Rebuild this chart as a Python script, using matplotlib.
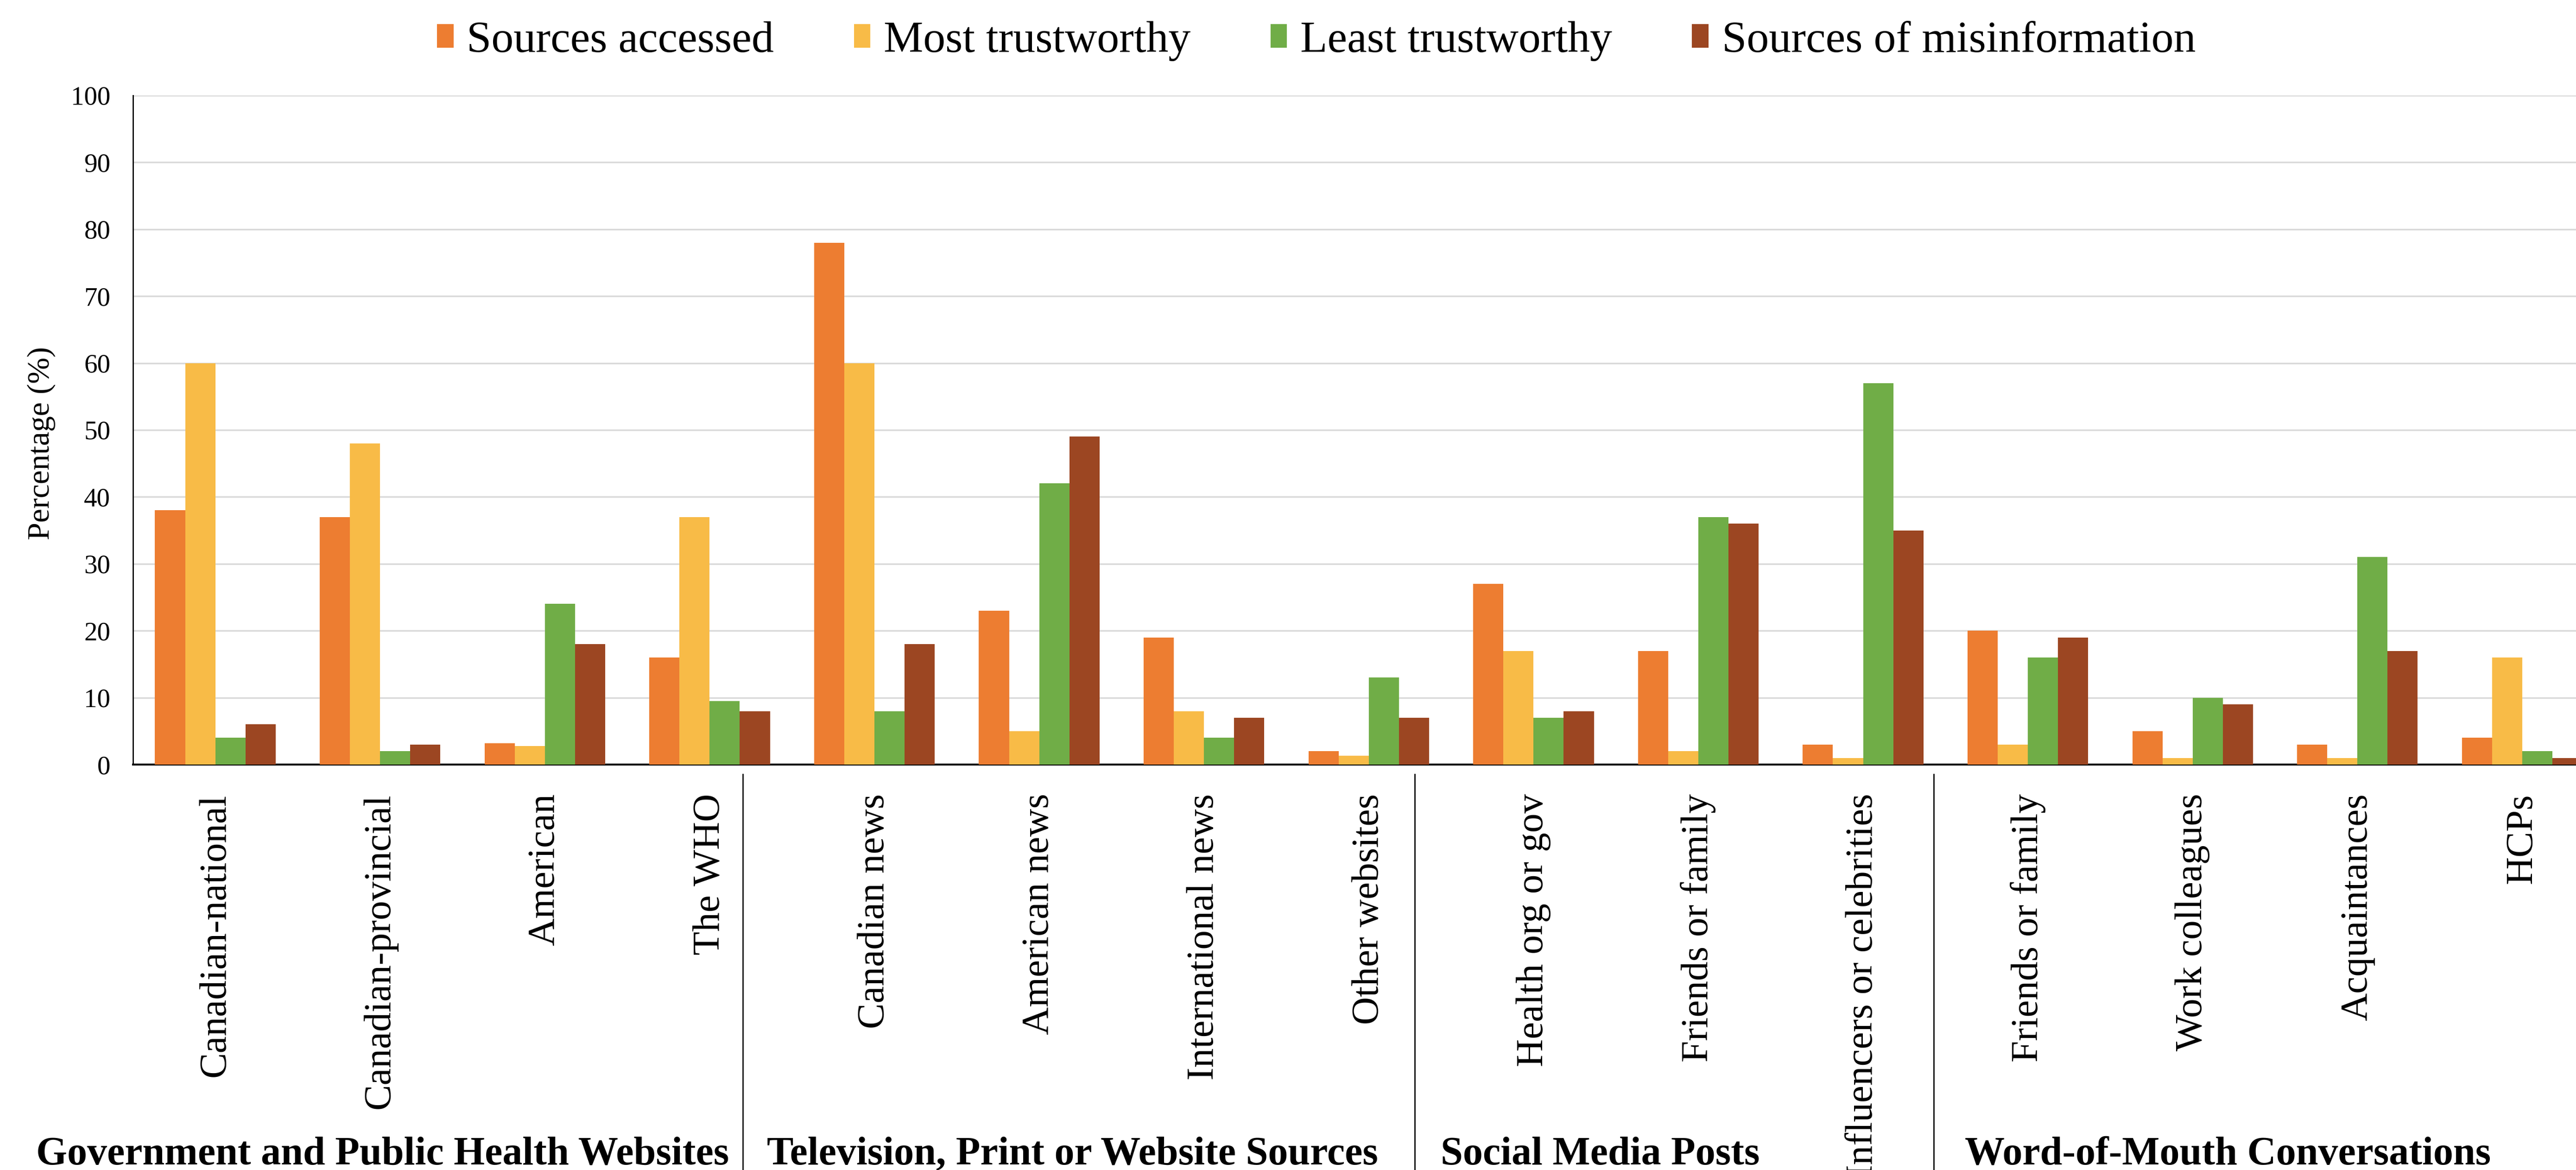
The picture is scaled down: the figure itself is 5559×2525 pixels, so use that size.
import matplotlib
matplotlib.use("Agg")
import matplotlib.pyplot as plt
import matplotlib.transforms as mtransforms
import numpy as np

plt.rcParams['font.family'] = ['Liberation Serif', 'DejaVu Serif']

categories = ['Canadian-national', 'Canadian-provincial', 'American', 'The WHO',
              'Canadian news', 'American news', 'International news', 'Other websites',
              'Health org or gov', 'Friends or family', 'Influencers or celebrities',
              'Friends or family', 'Work colleagues', 'Acquaintances', 'HCPs']

series_names = ['Sources accessed', 'Most trustworthy', 'Least trustworthy',
                'Sources of misinformation']
sources_accessed = [38, 37, 3.2, 16, 78, 23, 19, 2, 27, 17, 3, 20, 5, 3, 4]
most_trustworthy = [60, 48, 2.8, 37, 60, 5, 8, 1.3, 17, 2, 1, 3, 1, 1, 16]
least_trustworthy = [4, 2, 24, 9.5, 8, 42, 4, 13, 7, 37, 57, 16, 10, 31, 2]
misinformation = [6, 3, 18, 8, 18, 49, 7, 7, 8, 36, 35, 19, 9, 17, 1]

group_names = ['Government and Public Health Websites',
               'Television, Print or Website Sources',
               'Social Media Posts',
               'Word-of-Mouth Conversations']

colors = ['#ED7D31', '#F8BB47', '#70AD47', '#9C4622']

fig = plt.figure(figsize=(55.59, 25.25), dpi=100)
ax = fig.add_axes([0.0516, 0.3465, 0.9595, 0.572])

x = np.arange(len(categories))
w = 0.183
offsets = (np.arange(4) - 1.5) * w
all_series = [sources_accessed, most_trustworthy, least_trustworthy, misinformation]
for k, (name, vals) in enumerate(zip(series_names, all_series)):
    ax.bar(x + offsets[k], vals, w, color=colors[k], label=name, zorder=3)

ax.set_xlim(-0.5, 14.5)
ax.set_ylim(0, 100)
ax.set_yticks(range(0, 101, 10))
ax.yaxis.grid(True, color='#d9d9d9', linewidth=2.5, zorder=0)
ax.set_axisbelow(True)
ax.tick_params(axis='y', length=0, pad=35, labelsize=41)
ax.set_xticks(x, categories, rotation=90, fontsize=60)
ax.tick_params(axis='x', length=0, pad=45)

for s in ['top', 'right']:
    ax.spines[s].set_visible(False)
ax.spines['left'].set_linewidth(2)
ax.spines['bottom'].set_linewidth(3)

# vertical dividers between the source groups
trans = mtransforms.blended_transform_factory(ax.transData, ax.transAxes)
for xd in [3.2, 7.28, 10.43]:
    ax.plot([xd, xd], [-0.0145, -0.65], color='black', lw=2,
            transform=trans, clip_on=False)

# group captions along the bottom
for name, xf in zip(group_names, [78, 1655, 3109, 4240]):
    fig.text(xf / 5559, 0.013, name, fontsize=62, fontweight='bold',
             ha='left', va='center')

fig.text(0.016, 0.621, 'Percentage (%)', fontsize=49, rotation=90,
         ha='center', va='center')

fig.legend(loc='center', bbox_to_anchor=(0.511, 0.965), ncol=4, frameon=False,
           fontsize=69, handlelength=0.37, handleheight=0.45,
           handletextpad=0.3, columnspacing=1.8)

fig.savefig('out.png', dpi=100)
